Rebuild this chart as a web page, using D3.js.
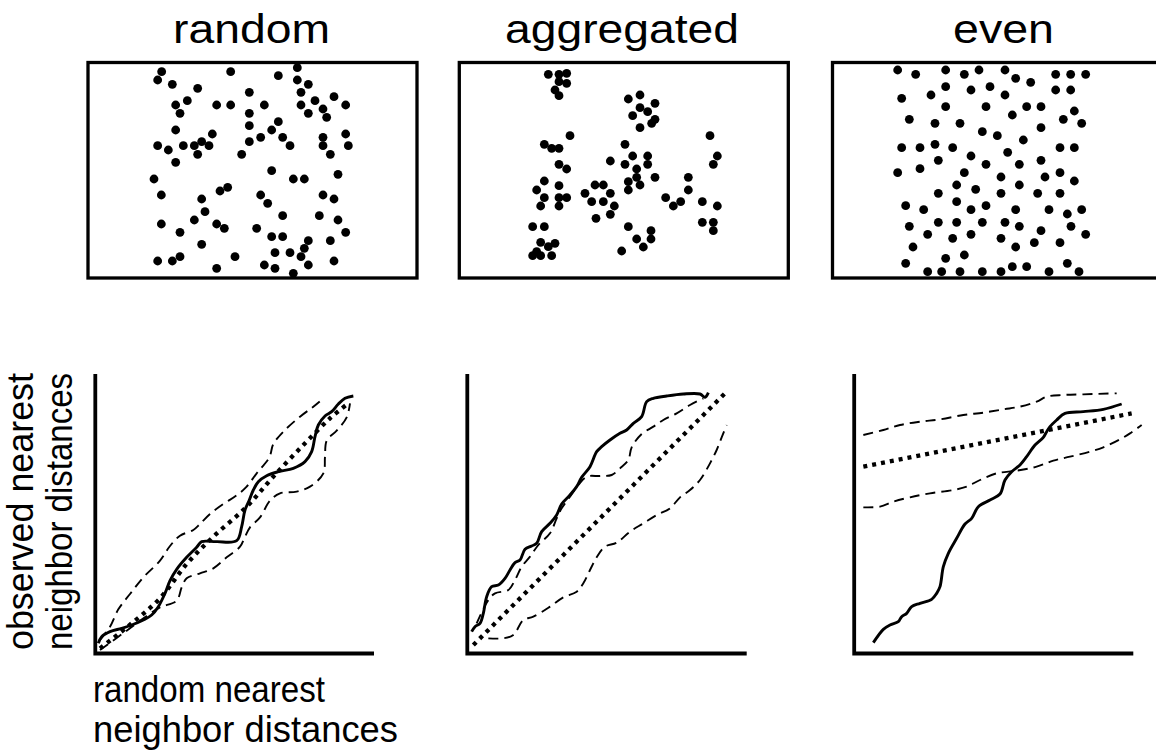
<!DOCTYPE html>
<html>
<head>
<meta charset="utf-8">
<script src="https://cdn.jsdelivr.net/npm/d3@7"></script>
<style>
  html, body { margin: 0; padding: 0; background: #fff; }
  svg { display: block; }
  text { font-family: "Liberation Sans", Arial, Helvetica, sans-serif; fill: #000; }
</style>
</head>
<body>
<svg id="chart" width="1156" height="751"></svg>
<script>
// ---------- DATA (in panel units: x 0..1005, y 0..690) ----------
const titles = ["random", "aggregated", "even"];

const randomPoints = [
  [230,50],[218,75],[437,50],[262,88],[338,100],[580,62],[637,38],[637,75],[670,88],[493,112],
  [648,112],[307,137],[272,150],[395,150],[437,150],[538,150],[648,150],[690,137],[747,125],[714,162],
  [782,150],[285,175],[493,175],[670,175],[725,187],[580,200],[493,212],[560,225],[272,225],[382,237],
  [782,237],[527,247],[593,247],[714,247],[218,272],[250,285],[295,272],[328,272],[350,260],[372,272],
  [493,260],[615,272],[714,272],[790,272],[338,298],[470,298],[736,298],[272,322],[560,347],[625,372],
  [658,372],[759,358],[207,372],[428,397],[405,408],[229,420],[527,420],[350,432],[548,445],[714,420],
  [747,432],[360,470],[593,482],[703,482],[328,495],[229,507],[395,507],[418,520],[515,520],[759,495],
  [285,532],[782,532],[560,545],[593,545],[670,557],[736,557],[350,568],[658,580],[570,593],[615,593],
  [648,605],[218,618],[262,618],[285,605],[450,605],[747,618],[538,630],[670,630],[395,640],[570,640],
  [625,655]
];

const aggregatedPoints = [
  [280,58],[312,58],[335,55],[312,80],[335,85],[300,105],[312,122],[520,132],[555,120],[600,145],
  [555,158],[578,170],[533,182],[600,193],[590,205],[555,218],[345,242],[268,268],[290,280],[312,280],
  [765,242],[510,268],[533,303],[578,303],[787,303],[466,318],[510,328],[578,328],[775,328],[312,328],
  [335,342],[545,342],[600,367],[545,367],[520,380],[555,390],[520,405],[700,367],[268,378],[245,405],
  [312,392],[420,390],[445,390],[390,415],[466,415],[268,428],[312,428],[335,428],[257,453],[312,453],
  [410,440],[445,440],[478,453],[466,478],[423,490],[632,428],[655,453],[677,440],[700,405],[742,440],
  [787,453],[742,502],[775,502],[775,527],[233,515],[268,515],[520,515],[588,527],[588,552],[545,552],
  [565,576],[500,588],[257,562],[280,575],[300,565],[245,590],[233,602],[257,602],[290,602]
];

const evenPoints = [
  [218,45],[272,58],[362,45],[418,58],[462,45],[540,45],[572,70],[617,82],[692,58],[737,58],
  [782,58],[362,95],[438,105],[495,95],[540,120],[692,105],[737,105],[230,130],[318,120],[362,155],
  [483,155],[605,155],[648,155],[748,168],[562,180],[253,193],[330,205],[405,205],[715,193],[770,205],
  [648,218],[472,230],[517,242],[595,255],[230,278],[285,278],[330,268],[383,278],[705,278],[748,278],
  [548,292],[438,303],[340,316],[483,328],[583,328],[648,316],[218,353],[285,341],[418,353],[528,366],
  [660,366],[705,353],[748,378],[395,390],[452,403],[583,390],[340,415],[528,415],[638,415],[705,415],
  [242,452],[296,464],[395,440],[438,464],[483,452],[572,464],[672,464],[727,477],[770,464],[253,514],
  [340,502],[395,502],[472,502],[540,502],[583,514],[648,527],[738,514],[308,538],[383,550],[438,538],
  [528,550],[782,538],[264,576],[572,576],[628,563],[705,563],[362,610],[418,600],[242,625],[308,650],
  [350,650],[405,650],[472,650],[528,650],[562,635],[605,635],[672,650],[727,625],[762,650]
];

// lower panels (units: x 0..990, y 0..930)
const randomObserved = [
  [115,850],[125,830],[150,815],[185,805],[215,795],[250,780],[275,765],[295,740],[315,700],[330,662],
  [350,628],[380,592],[410,562],[425,545],[470,545],[530,542],[545,500],[555,450],[568,420],[580,390],
  [595,365],[620,347],[655,335],[700,325],[735,305],[755,275],[765,230],[775,195],[795,168],[815,155],
  [835,132],[855,115],[880,108]
];
const randomExpected = [[120,865],[215,790],[300,715],[380,612],[460,530],[560,440],[640,350],[730,255],[810,175],[865,130]];
const randomUpper = [
  [120,840],[150,800],[175,748],[210,702],[250,652],[300,602],[330,558],[360,527],[400,510],[420,492],
  [450,462],[490,432],[530,406],[560,380],[590,340],[628,292],[640,252],[670,215],[720,170],[760,140],[790,115]
];
const randomLower = [
  [120,870],[200,812],[260,768],[300,742],[350,722],[365,682],[380,655],[420,640],[460,625],[500,592],
  [540,560],[555,530],[570,502],[600,472],[630,422],[660,400],[710,395],[750,380],[790,340],[795,290],
  [800,242],[830,212],[860,172],[870,130]
];

const aggregatedObserved = [
  [65,815],[75,800],[90,790],[100,760],[110,710],[125,680],[145,675],[165,655],[180,630],[195,608],
  [210,600],[225,568],[245,558],[260,550],[275,515],[300,490],[320,465],[335,432],[360,405],[380,380],
  [395,352],[420,320],[440,275],[455,260],[480,240],[510,220],[530,210],[550,190],[575,170],[590,125],
  [610,115],[650,108],[700,102],[750,102],[765,112],[775,98]
];
const aggregatedExpected = [[70,855],[825,100]];
const aggregatedUpper = [
  [80,790],[115,720],[135,700],[175,690],[195,660],[215,620],[240,590],[265,555],[300,520],[320,475],
  [335,445],[360,410],[385,375],[410,350],[450,348],[485,345],[510,325],[535,300],[545,262],[575,222],
  [610,200],[640,180],[680,160],[720,135],[760,115]
];
const aggregatedLower = [
  [115,835],[160,835],[190,825],[220,780],[250,770],[300,740],[340,712],[380,695],[400,670],[420,630],
  [440,592],[465,560],[500,548],[540,515],[580,490],[620,465],[660,445],[690,412],[720,390],[750,360],
  [780,310],[800,270],[815,232],[830,195]
];

const evenObserved = [
  [130,848],[160,808],[180,795],[205,785],[215,770],[230,760],[245,740],[270,730],[305,718],[320,700],
  [330,680],[340,620],[355,580],[380,535],[405,492],[425,475],[445,440],[480,420],[510,402],[525,360],
  [545,335],[570,315],[590,290],[615,255],[640,232],[650,215],[660,200],[680,180],[705,160],[760,155],
  [820,148],[875,132]
];
const evenExpected = [[100,320],[905,160]];
const evenUpper = [
  [100,225],[160,210],[210,195],[270,185],[330,178],[400,165],[460,158],[520,148],[570,140],[620,125],
  [650,110],[700,105],[760,103],[860,100]
];
const evenLower = [
  [100,442],[150,440],[190,425],[240,412],[300,400],[370,390],[410,380],[450,360],[500,340],[560,332],
  [620,320],[670,302],[720,290],[780,275],[820,262],[870,238],[900,220],[935,195]
];

const xLabelLines = ["random nearest", "neighbor distances"];
const yLabelLines = ["observed nearest", "neighbor distances"];

// ---------- LAYOUT ----------
const svg = d3.select("#chart");
const topOrigins = [85, 455, 825];
const boxLeft = [88, 459.3, 832.5];
const boxWidth = 329;
const boxTop = 62.5, boxBottom = 278;
const bottomOrigins = [60, 450, 830];
const axisX = [95.3, 467.3, 854.2];
const axisRight = [374, 746.7, 1133.3];
const axisTop = 374, axisY = 653.5;

const titleCenters = [251.5, 622, 1003.5];
const titleWidths = [157, 234, 101];

titles.forEach((t, i) => {
  svg.append("text")
    .attr("x", titleCenters[i] - titleWidths[i] / 2)
    .attr("y", 42.7)
    .attr("font-size", 41.5)
    .attr("textLength", titleWidths[i])
    .attr("lengthAdjust", "spacingAndGlyphs")
    .text(t);
});

// scatter panels
const pointSets = [randomPoints, aggregatedPoints, evenPoints];
pointSets.forEach((pts, i) => {
  const x = d3.scaleLinear().domain([0, 1005]).range([topOrigins[i], topOrigins[i] + 335]);
  const y = d3.scaleLinear().domain([0, 690]).range([55, 285]);
  const g = svg.append("g");
  g.append("rect")
    .attr("x", boxLeft[i]).attr("y", boxTop)
    .attr("width", boxWidth).attr("height", boxBottom - boxTop)
    .attr("fill", "none").attr("stroke", "#000").attr("stroke-width", 3.3);
  g.selectAll("circle").data(pts).join("circle")
    .attr("cx", d => x(d[0])).attr("cy", d => y(d[1]))
    .attr("r", 4.4).attr("fill", "#000");
});

// line panels
const lineSets = [
  { obs: randomObserved, exp: randomExpected, up: randomUpper, lo: randomLower },
  { obs: aggregatedObserved, exp: aggregatedExpected, up: aggregatedUpper, lo: aggregatedLower },
  { obs: evenObserved, exp: evenExpected, up: evenUpper, lo: evenLower }
];
lineSets.forEach((s, i) => {
  const x = d3.scaleLinear().domain([0, 990]).range([bottomOrigins[i], bottomOrigins[i] + 330]);
  const y = d3.scaleLinear().domain([0, 930]).range([360, 670]);
  const line = d3.line().x(d => x(d[0])).y(d => y(d[1])).curve(d3.curveCatmullRom.alpha(0.5));
  const g = svg.append("g");
  g.append("path")
    .attr("d", `M${axisX[i]},${axisTop}V${axisY}H${axisRight[i]}`)
    .attr("fill", "none").attr("stroke", "#000").attr("stroke-width", 3.8);
  g.append("path").attr("d", line(s.up))
    .attr("fill", "none").attr("stroke", "#000").attr("stroke-width", 1.9)
    .attr("stroke-dasharray", "10,6");
  g.append("path").attr("d", line(s.lo))
    .attr("fill", "none").attr("stroke", "#000").attr("stroke-width", 1.9)
    .attr("stroke-dasharray", "10,6");
  g.append("path").attr("d", d3.line().x(d => x(d[0])).y(d => y(d[1])).curve(d3.curveCatmullRom)(s.exp))
    .attr("fill", "none").attr("stroke", "#000").attr("stroke-width", 4.3)
    .attr("stroke-dasharray", "4,5");
  g.append("path").attr("d", line(s.obs))
    .attr("fill", "none").attr("stroke", "#000").attr("stroke-width", 2.9)
    .attr("stroke-linejoin", "round");
});

// axis labels
const xLabelWidths = [232, 305];
xLabelLines.forEach((t, k) => {
  svg.append("text")
    .attr("x", 93).attr("y", 701.5 + k * 40.5)
    .attr("font-size", 37.5)
    .attr("textLength", xLabelWidths[k])
    .attr("lengthAdjust", "spacingAndGlyphs")
    .text(t);
});
const yBaselines = [33.3, 71.5];
yLabelLines.forEach((t, k) => {
  svg.append("text")
    .attr("transform", `translate(${yBaselines[k]},${650}) rotate(-90)`)
    .attr("x", 0).attr("y", 0)
    .attr("font-size", 36)
    .attr("textLength", 277)
    .attr("lengthAdjust", "spacingAndGlyphs")
    .text(t);
});
</script>
</body>
</html>
